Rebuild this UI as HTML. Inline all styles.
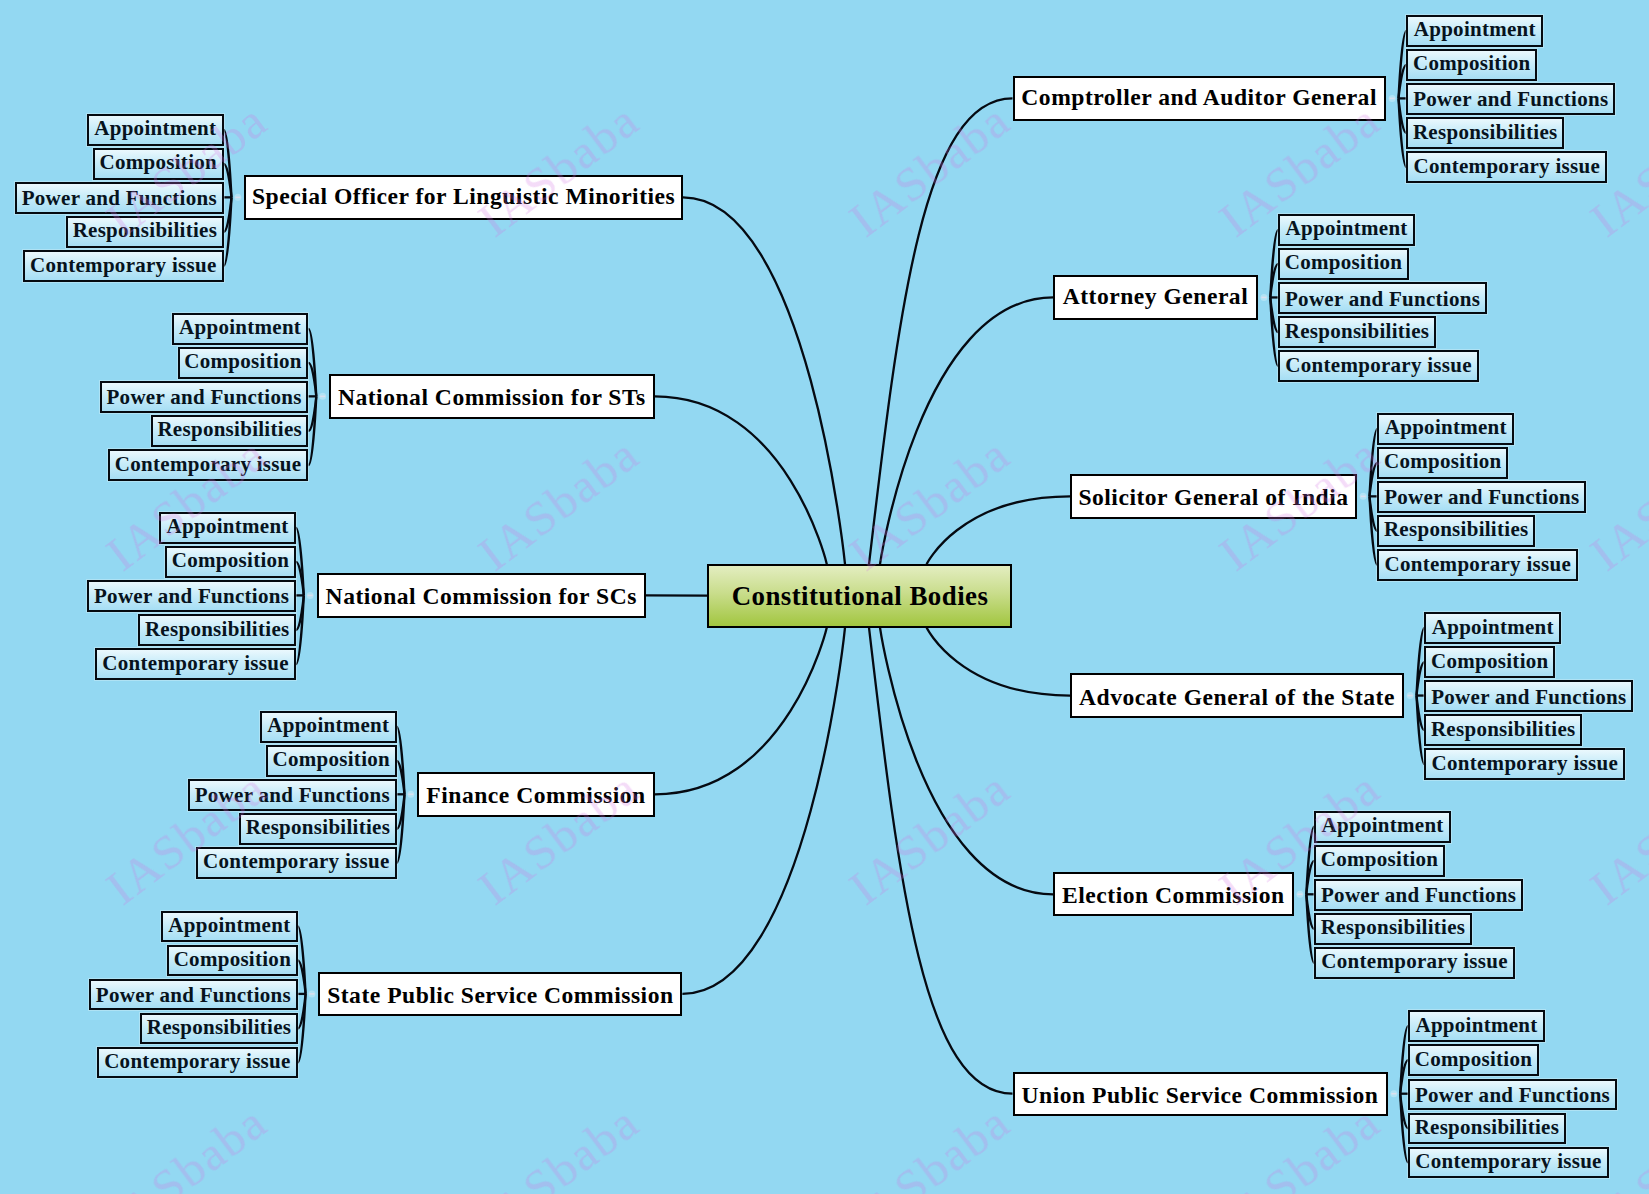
<!DOCTYPE html>
<html><head><meta charset="utf-8"><style>
html,body{margin:0;padding:0;}
body{width:1649px;height:1194px;overflow:hidden;background:#93d8f2;position:relative;font-family:"Liberation Serif",serif;font-weight:bold;}
svg{position:absolute;left:0;top:0;}
.b{position:absolute;box-sizing:border-box;display:flex;align-items:center;justify-content:center;white-space:nowrap;}
.main{background:#fff;border:2px solid #000;font-size:23.6px;letter-spacing:0.5px;color:#000;padding-top:3px;}
.leaf{background:linear-gradient(to bottom,#eaf8fd 0%,#c8ecf9 45%,#a6def4 100%);border:2px solid #050a10;font-size:21.0px;letter-spacing:0.28px;color:#07131d;padding-top:2px;box-shadow:0 0 0 1px rgba(230,245,250,0.35);}
.center{background:linear-gradient(to bottom,#e3edc0 0%,#c9dd8c 45%,#a2c640 100%);border:2px solid #000;font-size:26.9px;letter-spacing:0.45px;color:#000;padding-top:2px;padding-left:1px;}
.wm text{font-family:"Liberation Serif",serif;font-weight:normal;font-size:49px;letter-spacing:2px;fill:#d474e4;fill-opacity:0.25;}
</style></head><body>
<svg width="1649" height="1194" viewBox="0 0 1649 1194">
<g fill="none" stroke="#050a12" stroke-width="2.3"><path d="M1012.5,98.4 C923.53,98.4 898.99,308.01 869,564.2"/><path d="M1406.4,30.85 C1401.9,30.85 1398.5,98.4 1398.5,98.4"/><path d="M1406.4,64.9 C1401.9,64.9 1398.5,98.4 1398.5,98.4"/><path d="M1398.5,98.4 L1406.4,98.4"/><path d="M1406.4,133 C1401.9,133 1398.5,98.4 1398.5,98.4"/><path d="M1406.4,167.05 C1401.9,167.05 1398.5,98.4 1398.5,98.4"/><path d="M683,197.35 C807.74,197.35 845,564.2 845,564.2"/><path d="M223.7,129.8 C228.15,129.8 231.5,197.35 231.5,197.35"/><path d="M223.7,163.85 C228.15,163.85 231.5,197.35 231.5,197.35"/><path d="M231.5,197.35 L223.7,197.35"/><path d="M223.7,231.95 C228.15,231.95 231.5,197.35 231.5,197.35"/><path d="M223.7,266 C228.15,266 231.5,197.35 231.5,197.35"/><path d="M1053.3,297.45 C919.86,297.45 880,564.2 880,564.2"/><path d="M1278.2,229.9 C1273.7,229.9 1270.3,297.45 1270.3,297.45"/><path d="M1278.2,263.95 C1273.7,263.95 1270.3,297.45 1270.3,297.45"/><path d="M1270.3,297.45 L1278.2,297.45"/><path d="M1278.2,332.05 C1273.7,332.05 1270.3,297.45 1270.3,297.45"/><path d="M1278.2,366.1 C1273.7,366.1 1270.3,297.45 1270.3,297.45"/><path d="M654.7,396.35 C787.22,396.35 826.8,564.2 826.8,564.2"/><path d="M308.5,328.8 C312.95,328.8 316.3,396.35 316.3,396.35"/><path d="M308.5,362.85 C312.95,362.85 316.3,396.35 316.3,396.35"/><path d="M316.3,396.35 L308.5,396.35"/><path d="M308.5,430.95 C312.95,430.95 316.3,396.35 316.3,396.35"/><path d="M308.5,465 C312.95,465 316.3,396.35 316.3,396.35"/><path d="M1070.1,496.35 C959.61,496.35 926.6,564.2 926.6,564.2"/><path d="M1377.4,428.8 C1372.9,428.8 1369.5,496.35 1369.5,496.35"/><path d="M1377.4,462.85 C1372.9,462.85 1369.5,496.35 1369.5,496.35"/><path d="M1369.5,496.35 L1377.4,496.35"/><path d="M1377.4,530.95 C1372.9,530.95 1369.5,496.35 1369.5,496.35"/><path d="M1377.4,565 C1372.9,565 1369.5,496.35 1369.5,496.35"/><path d="M646,595.4 L707,595.7"/><path d="M296,527.85 C300.45,527.85 303.8,595.4 303.8,595.4"/><path d="M296,561.9 C300.45,561.9 303.8,595.4 303.8,595.4"/><path d="M303.8,595.4 L296,595.4"/><path d="M296,630 C300.45,630 303.8,595.4 303.8,595.4"/><path d="M296,664.05 C300.45,664.05 303.8,595.4 303.8,595.4"/><path d="M1070.1,695.55 C959.61,695.55 926.6,627.6 926.6,627.6"/><path d="M1424.4,628 C1419.9,628 1416.5,695.55 1416.5,695.55"/><path d="M1424.4,662.05 C1419.9,662.05 1416.5,695.55 1416.5,695.55"/><path d="M1416.5,695.55 L1424.4,695.55"/><path d="M1424.4,730.15 C1419.9,730.15 1416.5,695.55 1416.5,695.55"/><path d="M1424.4,764.2 C1419.9,764.2 1416.5,695.55 1416.5,695.55"/><path d="M654.9,794.3 C787.26,794.3 826.8,627.6 826.8,627.6"/><path d="M396.7,726.75 C401.15,726.75 404.5,794.3 404.5,794.3"/><path d="M396.7,760.8 C401.15,760.8 404.5,794.3 404.5,794.3"/><path d="M404.5,794.3 L396.7,794.3"/><path d="M396.7,828.9 C401.15,828.9 404.5,794.3 404.5,794.3"/><path d="M396.7,862.95 C401.15,862.95 404.5,794.3 404.5,794.3"/><path d="M1053.1,894.3 C919.81,894.3 880,627.6 880,627.6"/><path d="M1314.2,826.75 C1309.7,826.75 1306.3,894.3 1306.3,894.3"/><path d="M1314.2,860.8 C1309.7,860.8 1306.3,894.3 1306.3,894.3"/><path d="M1306.3,894.3 L1314.2,894.3"/><path d="M1314.2,928.9 C1309.7,928.9 1306.3,894.3 1306.3,894.3"/><path d="M1314.2,962.95 C1309.7,962.95 1306.3,894.3 1306.3,894.3"/><path d="M682.4,993.9 C807.6,993.9 845,627.6 845,627.6"/><path d="M297.8,926.35 C302.25,926.35 305.6,993.9 305.6,993.9"/><path d="M297.8,960.4 C302.25,960.4 305.6,993.9 305.6,993.9"/><path d="M305.6,993.9 L297.8,993.9"/><path d="M297.8,1028.5 C302.25,1028.5 305.6,993.9 305.6,993.9"/><path d="M297.8,1062.55 C302.25,1062.55 305.6,993.9 305.6,993.9"/><path d="M1012.5,1093.7 C923.53,1093.7 898.99,883.96 869,627.6"/><path d="M1408.1,1026.15 C1403.6,1026.15 1400.2,1093.7 1400.2,1093.7"/><path d="M1408.1,1060.2 C1403.6,1060.2 1400.2,1093.7 1400.2,1093.7"/><path d="M1400.2,1093.7 L1408.1,1093.7"/><path d="M1408.1,1128.3 C1403.6,1128.3 1400.2,1093.7 1400.2,1093.7"/><path d="M1408.1,1162.35 C1403.6,1162.35 1400.2,1093.7 1400.2,1093.7"/></g>
<g><circle cx="1392.15" cy="98.4" r="3.5" fill="#ffffff" opacity="0.28"/><path d="M1389.65,98.4 L1394.65,98.4" stroke="#dcdfee" stroke-width="1.6"/><circle cx="237.85" cy="197.35" r="3.5" fill="#ffffff" opacity="0.28"/><path d="M235.35,197.35 L240.35,197.35" stroke="#dcdfee" stroke-width="1.6"/><circle cx="1263.95" cy="297.45" r="3.5" fill="#ffffff" opacity="0.28"/><path d="M1261.45,297.45 L1266.45,297.45" stroke="#dcdfee" stroke-width="1.6"/><circle cx="322.65" cy="396.35" r="3.5" fill="#ffffff" opacity="0.28"/><path d="M320.15,396.35 L325.15,396.35" stroke="#dcdfee" stroke-width="1.6"/><circle cx="1363.15" cy="496.35" r="3.5" fill="#ffffff" opacity="0.28"/><path d="M1360.65,496.35 L1365.65,496.35" stroke="#dcdfee" stroke-width="1.6"/><circle cx="310.15" cy="595.4" r="3.5" fill="#ffffff" opacity="0.28"/><path d="M307.65,595.4 L312.65,595.4" stroke="#dcdfee" stroke-width="1.6"/><circle cx="1410.15" cy="695.55" r="3.5" fill="#ffffff" opacity="0.28"/><path d="M1407.65,695.55 L1412.65,695.55" stroke="#dcdfee" stroke-width="1.6"/><circle cx="410.85" cy="794.3" r="3.5" fill="#ffffff" opacity="0.28"/><path d="M408.35,794.3 L413.35,794.3" stroke="#dcdfee" stroke-width="1.6"/><circle cx="1299.95" cy="894.3" r="3.5" fill="#ffffff" opacity="0.28"/><path d="M1297.45,894.3 L1302.45,894.3" stroke="#dcdfee" stroke-width="1.6"/><circle cx="311.95" cy="993.9" r="3.5" fill="#ffffff" opacity="0.28"/><path d="M309.45,993.9 L314.45,993.9" stroke="#dcdfee" stroke-width="1.6"/><circle cx="1393.85" cy="1093.7" r="3.5" fill="#ffffff" opacity="0.28"/><path d="M1391.35,1093.7 L1396.35,1093.7" stroke="#dcdfee" stroke-width="1.6"/></g>
</svg>

<div class="b center" style="left:707px;top:564.2px;width:305px;height:63.4px">Constitutional Bodies</div>
<div class="b main" style="left:1012.5px;top:76.1px;width:373.3px;height:44.6px;padding-top:0;padding-bottom:1px">Comptroller and Auditor General</div>
<div class="b leaf" style="left:1406.4px;top:15.1px;width:136.8px;height:31.5px;padding-top:0;padding-bottom:2px">Appointment</div>
<div class="b leaf" style="left:1406.4px;top:49.15px;width:130.8px;height:31.5px;padding-top:0;padding-bottom:2px">Composition</div>
<div class="b leaf" style="left:1406.4px;top:83.2px;width:208.8px;height:31.5px">Power and Functions</div>
<div class="b leaf" style="left:1406.4px;top:117.25px;width:157.6px;height:31.5px;padding-top:0;padding-bottom:2px">Responsibilities</div>
<div class="b leaf" style="left:1406.4px;top:151.3px;width:200.8px;height:31.5px;padding-top:0;padding-bottom:2px">Contemporary issue</div>
<div class="b main" style="left:244.2px;top:175px;width:438.8px;height:44.7px;padding-top:0;padding-bottom:1px">Special Officer for Linguistic Minorities</div>
<div class="b leaf" style="left:86.9px;top:114.05px;width:136.8px;height:31.5px;padding-top:0;padding-bottom:2px">Appointment</div>
<div class="b leaf" style="left:92.9px;top:148.1px;width:130.8px;height:31.5px;padding-top:0;padding-bottom:2px">Composition</div>
<div class="b leaf" style="left:14.9px;top:182.15px;width:208.8px;height:31.5px">Power and Functions</div>
<div class="b leaf" style="left:66.1px;top:216.2px;width:157.6px;height:31.5px;padding-top:0;padding-bottom:2px">Responsibilities</div>
<div class="b leaf" style="left:22.9px;top:250.25px;width:200.8px;height:31.5px;padding-top:0;padding-bottom:2px">Contemporary issue</div>
<div class="b main" style="left:1053.3px;top:275.3px;width:204.3px;height:44.3px;padding-top:0;padding-bottom:1px">Attorney General</div>
<div class="b leaf" style="left:1278.2px;top:214.15px;width:136.8px;height:31.5px;padding-top:0;padding-bottom:2px">Appointment</div>
<div class="b leaf" style="left:1278.2px;top:248.2px;width:130.8px;height:31.5px;padding-top:0;padding-bottom:2px">Composition</div>
<div class="b leaf" style="left:1278.2px;top:282.25px;width:208.8px;height:31.5px">Power and Functions</div>
<div class="b leaf" style="left:1278.2px;top:316.3px;width:157.6px;height:31.5px;padding-top:0;padding-bottom:2px">Responsibilities</div>
<div class="b leaf" style="left:1278.2px;top:350.35px;width:200.8px;height:31.5px;padding-top:0;padding-bottom:2px">Contemporary issue</div>
<div class="b main" style="left:329px;top:374px;width:325.7px;height:44.7px">National Commission for STs</div>
<div class="b leaf" style="left:171.7px;top:313.05px;width:136.8px;height:31.5px;padding-top:0;padding-bottom:2px">Appointment</div>
<div class="b leaf" style="left:177.7px;top:347.1px;width:130.8px;height:31.5px;padding-top:0;padding-bottom:2px">Composition</div>
<div class="b leaf" style="left:99.7px;top:381.15px;width:208.8px;height:31.5px">Power and Functions</div>
<div class="b leaf" style="left:150.9px;top:415.2px;width:157.6px;height:31.5px;padding-top:0;padding-bottom:2px">Responsibilities</div>
<div class="b leaf" style="left:107.7px;top:449.25px;width:200.8px;height:31.5px;padding-top:0;padding-bottom:2px">Contemporary issue</div>
<div class="b main" style="left:1070.1px;top:474.1px;width:286.7px;height:44.5px">Solicitor General of India</div>
<div class="b leaf" style="left:1377.4px;top:413.05px;width:136.8px;height:31.5px;padding-top:0;padding-bottom:2px">Appointment</div>
<div class="b leaf" style="left:1377.4px;top:447.1px;width:130.8px;height:31.5px;padding-top:0;padding-bottom:2px">Composition</div>
<div class="b leaf" style="left:1377.4px;top:481.15px;width:208.8px;height:31.5px">Power and Functions</div>
<div class="b leaf" style="left:1377.4px;top:515.2px;width:157.6px;height:31.5px;padding-top:0;padding-bottom:2px">Responsibilities</div>
<div class="b leaf" style="left:1377.4px;top:549.25px;width:200.8px;height:31.5px;padding-top:0;padding-bottom:2px">Contemporary issue</div>
<div class="b main" style="left:316.5px;top:573.1px;width:329.5px;height:44.6px">National Commission for SCs</div>
<div class="b leaf" style="left:159.2px;top:512.1px;width:136.8px;height:31.5px;padding-top:0;padding-bottom:2px">Appointment</div>
<div class="b leaf" style="left:165.2px;top:546.15px;width:130.8px;height:31.5px;padding-top:0;padding-bottom:2px">Composition</div>
<div class="b leaf" style="left:87.2px;top:580.2px;width:208.8px;height:31.5px">Power and Functions</div>
<div class="b leaf" style="left:138.4px;top:614.25px;width:157.6px;height:31.5px;padding-top:0;padding-bottom:2px">Responsibilities</div>
<div class="b leaf" style="left:95.2px;top:648.3px;width:200.8px;height:31.5px;padding-top:0;padding-bottom:2px">Contemporary issue</div>
<div class="b main" style="left:1070.1px;top:673.3px;width:333.7px;height:44.5px">Advocate General of the State</div>
<div class="b leaf" style="left:1424.4px;top:612.25px;width:136.8px;height:31.5px;padding-top:0;padding-bottom:2px">Appointment</div>
<div class="b leaf" style="left:1424.4px;top:646.3px;width:130.8px;height:31.5px;padding-top:0;padding-bottom:2px">Composition</div>
<div class="b leaf" style="left:1424.4px;top:680.35px;width:208.8px;height:31.5px">Power and Functions</div>
<div class="b leaf" style="left:1424.4px;top:714.4px;width:157.6px;height:31.5px;padding-top:0;padding-bottom:2px">Responsibilities</div>
<div class="b leaf" style="left:1424.4px;top:748.45px;width:200.8px;height:31.5px;padding-top:0;padding-bottom:2px">Contemporary issue</div>
<div class="b main" style="left:417.2px;top:772px;width:237.7px;height:44.6px">Finance Commission</div>
<div class="b leaf" style="left:259.9px;top:711px;width:136.8px;height:31.5px;padding-top:0;padding-bottom:2px">Appointment</div>
<div class="b leaf" style="left:265.9px;top:745.05px;width:130.8px;height:31.5px;padding-top:0;padding-bottom:2px">Composition</div>
<div class="b leaf" style="left:187.9px;top:779.1px;width:208.8px;height:31.5px">Power and Functions</div>
<div class="b leaf" style="left:239.1px;top:813.15px;width:157.6px;height:31.5px;padding-top:0;padding-bottom:2px">Responsibilities</div>
<div class="b leaf" style="left:195.9px;top:847.2px;width:200.8px;height:31.5px;padding-top:0;padding-bottom:2px">Contemporary issue</div>
<div class="b main" style="left:1053.1px;top:872.1px;width:240.5px;height:44.4px">Election Commission</div>
<div class="b leaf" style="left:1314.2px;top:811px;width:136.8px;height:31.5px;padding-top:0;padding-bottom:2px">Appointment</div>
<div class="b leaf" style="left:1314.2px;top:845.05px;width:130.8px;height:31.5px;padding-top:0;padding-bottom:2px">Composition</div>
<div class="b leaf" style="left:1314.2px;top:879.1px;width:208.8px;height:31.5px">Power and Functions</div>
<div class="b leaf" style="left:1314.2px;top:913.15px;width:157.6px;height:31.5px;padding-top:0;padding-bottom:2px">Responsibilities</div>
<div class="b leaf" style="left:1314.2px;top:947.2px;width:200.8px;height:31.5px;padding-top:0;padding-bottom:2px">Contemporary issue</div>
<div class="b main" style="left:318.3px;top:971.9px;width:364.1px;height:44px">State Public Service Commission</div>
<div class="b leaf" style="left:161px;top:910.6px;width:136.8px;height:31.5px;padding-top:0;padding-bottom:2px">Appointment</div>
<div class="b leaf" style="left:167px;top:944.65px;width:130.8px;height:31.5px;padding-top:0;padding-bottom:2px">Composition</div>
<div class="b leaf" style="left:89px;top:978.7px;width:208.8px;height:31.5px">Power and Functions</div>
<div class="b leaf" style="left:140.2px;top:1012.75px;width:157.6px;height:31.5px;padding-top:0;padding-bottom:2px">Responsibilities</div>
<div class="b leaf" style="left:97px;top:1046.8px;width:200.8px;height:31.5px;padding-top:0;padding-bottom:2px">Contemporary issue</div>
<div class="b main" style="left:1012.5px;top:1071.5px;width:375px;height:44.4px">Union Public Service Commission</div>
<div class="b leaf" style="left:1408.1px;top:1010.4px;width:136.8px;height:31.5px;padding-top:0;padding-bottom:2px">Appointment</div>
<div class="b leaf" style="left:1408.1px;top:1044.45px;width:130.8px;height:31.5px;padding-top:0;padding-bottom:2px">Composition</div>
<div class="b leaf" style="left:1408.1px;top:1078.5px;width:208.8px;height:31.5px">Power and Functions</div>
<div class="b leaf" style="left:1408.1px;top:1112.55px;width:157.6px;height:31.5px;padding-top:0;padding-bottom:2px">Responsibilities</div>
<div class="b leaf" style="left:1408.1px;top:1146.6px;width:200.8px;height:31.5px;padding-top:0;padding-bottom:2px">Contemporary issue</div>
<svg class="wm" width="1649" height="1194" viewBox="0 0 1649 1194" style="pointer-events:none"><defs><filter id="bl" x="-10%" y="-10%" width="120%" height="120%"><feGaussianBlur stdDeviation="0.6"/></filter></defs><g filter="url(#bl)"><text x="190" y="174" transform="rotate(-37 190 174)" text-anchor="middle" dominant-baseline="middle">IASbaba</text><text x="562" y="174" transform="rotate(-37 562 174)" text-anchor="middle" dominant-baseline="middle">IASbaba</text><text x="933" y="174" transform="rotate(-37 933 174)" text-anchor="middle" dominant-baseline="middle">IASbaba</text><text x="1303" y="174" transform="rotate(-37 1303 174)" text-anchor="middle" dominant-baseline="middle">IASbaba</text><text x="1674" y="174" transform="rotate(-37 1674 174)" text-anchor="middle" dominant-baseline="middle">IASbaba</text><text x="190" y="508" transform="rotate(-37 190 508)" text-anchor="middle" dominant-baseline="middle">IASbaba</text><text x="562" y="508" transform="rotate(-37 562 508)" text-anchor="middle" dominant-baseline="middle">IASbaba</text><text x="933" y="508" transform="rotate(-37 933 508)" text-anchor="middle" dominant-baseline="middle">IASbaba</text><text x="1303" y="508" transform="rotate(-37 1303 508)" text-anchor="middle" dominant-baseline="middle">IASbaba</text><text x="1674" y="508" transform="rotate(-37 1674 508)" text-anchor="middle" dominant-baseline="middle">IASbaba</text><text x="190" y="842" transform="rotate(-37 190 842)" text-anchor="middle" dominant-baseline="middle">IASbaba</text><text x="562" y="842" transform="rotate(-37 562 842)" text-anchor="middle" dominant-baseline="middle">IASbaba</text><text x="933" y="842" transform="rotate(-37 933 842)" text-anchor="middle" dominant-baseline="middle">IASbaba</text><text x="1303" y="842" transform="rotate(-37 1303 842)" text-anchor="middle" dominant-baseline="middle">IASbaba</text><text x="1674" y="842" transform="rotate(-37 1674 842)" text-anchor="middle" dominant-baseline="middle">IASbaba</text><text x="190" y="1176" transform="rotate(-37 190 1176)" text-anchor="middle" dominant-baseline="middle">IASbaba</text><text x="562" y="1176" transform="rotate(-37 562 1176)" text-anchor="middle" dominant-baseline="middle">IASbaba</text><text x="933" y="1176" transform="rotate(-37 933 1176)" text-anchor="middle" dominant-baseline="middle">IASbaba</text><text x="1303" y="1176" transform="rotate(-37 1303 1176)" text-anchor="middle" dominant-baseline="middle">IASbaba</text><text x="1674" y="1176" transform="rotate(-37 1674 1176)" text-anchor="middle" dominant-baseline="middle">IASbaba</text></g></svg>
</body></html>
